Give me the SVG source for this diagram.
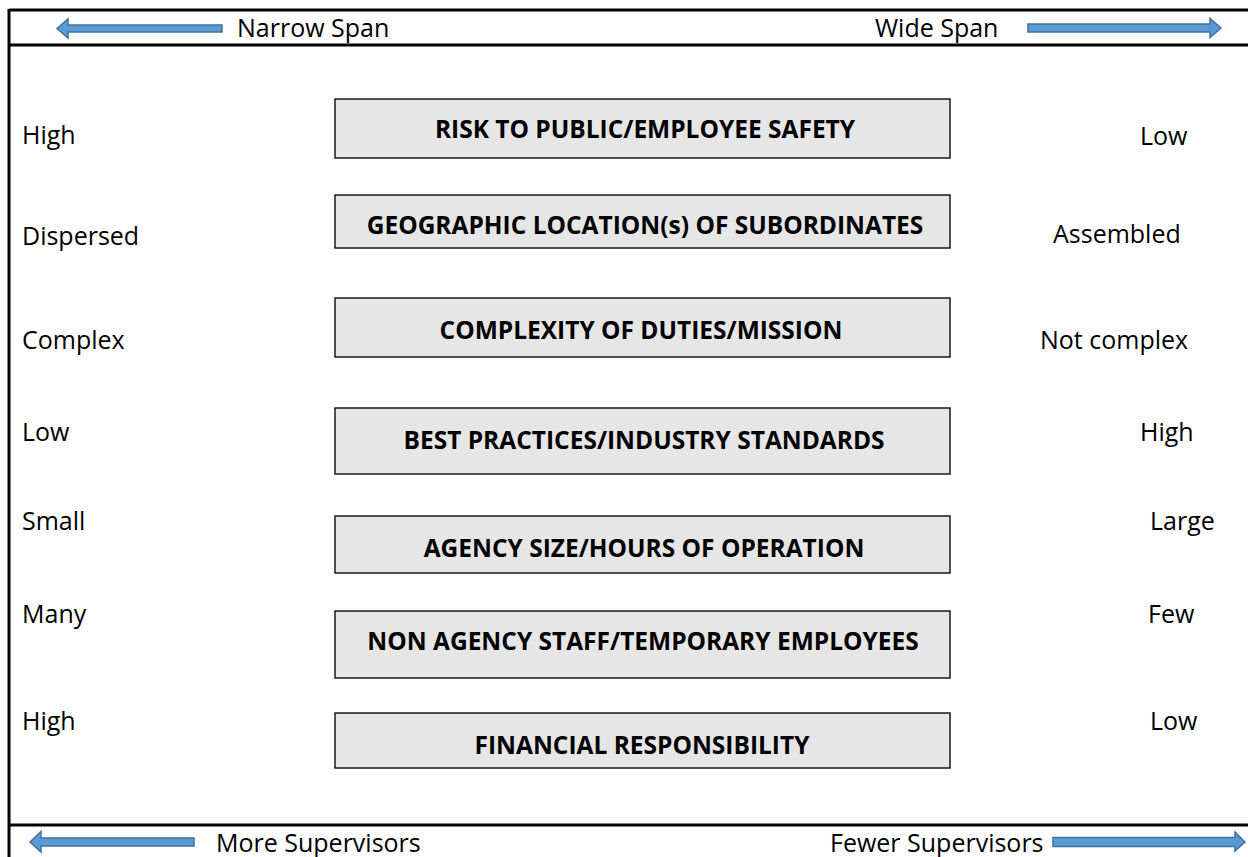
<svg xmlns="http://www.w3.org/2000/svg" width="1248" height="857" viewBox="0 0 1248 857">
<style>
.lbl{font-family:"Open Sans","Liberation Sans",sans-serif;font-size:25px;fill:#000}
.box rect{fill:#e6e6e6;stroke:#1a1a1a;stroke-width:1.5}
.box text{font-family:"Open Sans","Liberation Sans",sans-serif;font-size:24.5px;font-weight:bold;fill:#000;text-anchor:middle}
.arrow{fill:#5b9bd5;stroke:#41719c;stroke-width:1.5}
.frame{stroke:#000;stroke-width:3;fill:none}
</style>
<rect width="1248" height="857" fill="#fff"/>
<g id="frame">
<line class="frame" x1="9" y1="10" x2="1248" y2="10"/>
<line class="frame" x1="9" y1="45" x2="1248" y2="45"/>
<line class="frame" x1="9" y1="825" x2="1248" y2="825"/>
<line class="frame" x1="9" y1="9" x2="9" y2="857"/>
</g>
<g id="connectors">
<path class="arrow" d="M57,28.5 L68,19 L68,25 L222,25 L222,32 L68,32 L68,38 Z"/>
<path class="arrow" d="M1221,28 L1210,18.5 L1210,24 L1028,24 L1028,32 L1210,32 L1210,37.5 Z"/>
<path class="arrow" d="M30,842 L41,831.5 L41,838 L194,838 L194,846 L41,846 L41,852 Z"/>
<path class="arrow" d="M1245,842 L1235,832 L1235,837.5 L1053,837.5 L1053,846.5 L1235,846.5 L1235,851 Z"/>
</g>
<g id="axis-labels">
<text class="lbl" x="237" y="37">Narrow Span</text>
<text class="lbl" x="875" y="37">Wide Span</text>
<text class="lbl" x="216" y="852">More Supervisors</text>
<text class="lbl" x="830" y="852">Fewer Supervisors</text>
</g>
<g id="n1" class="box"><rect x="335" y="99" width="615" height="59"/><text x="645" y="138">RISK TO PUBLIC/EMPLOYEE SAFETY</text></g>
<g id="n2" class="box"><rect x="335" y="195" width="615" height="53"/><text x="645" y="234">GEOGRAPHIC LOCATION(s) OF SUBORDINATES</text></g>
<g id="n3" class="box"><rect x="335" y="298" width="615" height="59"/><text x="641" y="339">COMPLEXITY OF DUTIES/MISSION</text></g>
<g id="n4" class="box"><rect x="335" y="408" width="615" height="66"/><text x="644" y="449">BEST PRACTICES/INDUSTRY STANDARDS</text></g>
<g id="n5" class="box"><rect x="335" y="516" width="615" height="57"/><text x="644" y="557">AGENCY SIZE/HOURS OF OPERATION</text></g>
<g id="n6" class="box"><rect x="335" y="611" width="615" height="67"/><text x="643" y="650">NON AGENCY STAFF/TEMPORARY EMPLOYEES</text></g>
<g id="n7" class="box"><rect x="335" y="713" width="615" height="55"/><text x="642" y="754">FINANCIAL RESPONSIBILITY</text></g>
<g id="left-labels">
<text class="lbl" x="22" y="144">High</text>
<text class="lbl" x="22" y="245">Dispersed</text>
<text class="lbl" x="22" y="349">Complex</text>
<text class="lbl" x="22" y="441">Low</text>
<text class="lbl" x="22" y="530">Small</text>
<text class="lbl" x="22" y="623">Many</text>
<text class="lbl" x="22" y="730">High</text>
</g>
<g id="right-labels">
<text class="lbl" x="1140" y="145">Low</text>
<text class="lbl" x="1053" y="243">Assembled</text>
<text class="lbl" x="1040" y="349">Not complex</text>
<text class="lbl" x="1140" y="441">High</text>
<text class="lbl" x="1150" y="530">Large</text>
<text class="lbl" x="1148" y="623">Few</text>
<text class="lbl" x="1150" y="730">Low</text>
</g>
</svg>
